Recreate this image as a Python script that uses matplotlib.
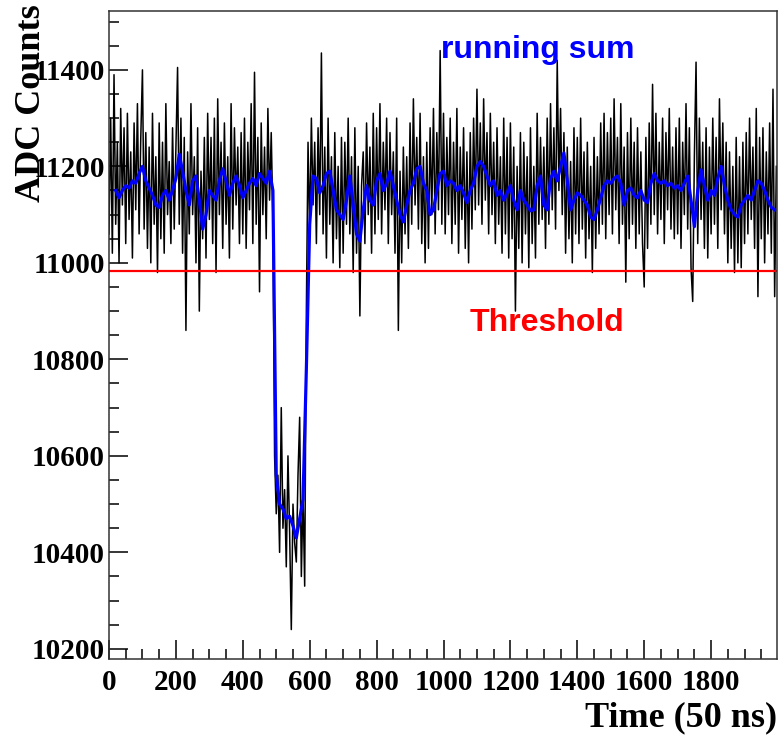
import numpy as np
import matplotlib
matplotlib.use("Agg")
import matplotlib.pyplot as plt
from matplotlib.ticker import MultipleLocator

# --- data ---
# raw ADC trace, one value every 5 samples (rows of 100 samples)
adc_step = 5
adc_counts = [
    11060, 11300, 11020, 11390, 11080, 11250, 11000, 11320, 11120, 11280, 11040, 11310, 11090, 11230, 11010, 11290, 11110, 11330, 11060, 11260,
    11400, 11070, 11270, 11030, 11240, 11000, 11310, 11080, 11220, 10980, 11290, 11050, 11250, 11020, 11330, 11100, 11210, 11040, 11280, 11070,
    11240, 11405, 11080, 11300, 11020, 11260, 10860, 11230, 11060, 11330, 11100, 11220, 11000, 11280, 10900, 11190, 11050, 11260, 11010, 11310,
    11090, 11260, 11040, 11300, 10980, 11340, 11100, 11250, 11030, 11290, 11080, 11220, 11010, 11330, 11070, 11280, 11120, 11240, 11040, 11270,
    11060, 11300, 11030, 11250, 11110, 11330, 11040, 11395, 11080, 11260, 10940, 11290, 11100, 11240, 11050, 11320, 11130, 11270, 11090, 10600,
    10480, 10560, 10400, 10700, 10450, 10530, 10370, 10600, 10440, 10240, 10500, 10420, 10380, 10560, 10680, 10350, 10520, 10330, 10900, 11250,
    11060, 11300, 11120, 11250, 11040, 11280, 11100, 11435, 11060, 11240, 11010, 11300, 11080, 11220, 11000, 11270, 11050, 11200, 10990, 11260,
    11020, 11250, 11080, 11300, 11060, 11220, 10980, 11280, 11020, 11200, 10890, 11160, 11230, 11040, 11290, 11100, 11240, 11020, 11310, 11060,
    11280, 11090, 11330, 11060, 11250, 11110, 11300, 11040, 11270, 11100, 11230, 11020, 11300, 10860, 11190, 11000, 11240, 11060, 11220, 11030,
    11290, 11080, 11340, 11120, 11260, 11070, 11310, 11040, 11220, 11000, 11250, 11030, 11280, 11100, 11320, 11060, 11270, 11110, 11440, 11080,
    11310, 11060, 11260, 11100, 11300, 11040, 11250, 11080, 11320, 11020, 11240, 11090, 11280, 11030, 11230, 11000, 11270, 11070, 11300, 11110,
    11360, 11120, 11290, 11080, 11340, 11130, 11270, 11060, 11310, 11100, 11250, 11040, 11280, 11080, 11220, 11020, 11300, 11060, 11260, 11010,
    11290, 11050, 11240, 10900, 11200, 11030, 11270, 11000, 11250, 11060, 11220, 10990, 11280, 11040, 11200, 11010, 11310, 11080, 11260, 11090,
    11240, 11030, 11300, 11080, 11330, 11110, 11280, 11070, 11420, 11150, 11320, 11100, 11270, 11020, 11240, 11050, 11210, 11000, 11280, 11060,
    11260, 11040, 11300, 11070, 11230, 11010, 11250, 11050, 11200, 10980, 11260, 11030, 11220, 11060, 11290, 11080, 11310, 11050, 11270, 11100,
    11300, 11060, 11340, 11110, 11260, 11040, 11330, 11080, 11240, 10960, 11270, 11050, 11300, 11080, 11250, 11030, 11280, 11060, 11230, 11040,
    10950, 11260, 11030, 11290, 11080, 11370, 11100, 11310, 11060, 11250, 11090, 11300, 11040, 11270, 11110, 11320, 11070, 11240, 11050, 11280,
    11060, 11300, 11030, 11250, 11100, 11330, 11070, 11280, 10990, 10920, 11220, 11416, 11040, 11300, 11090, 11250, 11030, 11280, 11010, 11240,
    11060, 11300, 11080, 11260, 11030, 11340, 11110, 11290, 11060, 11250, 11000, 11230, 11030, 11200, 10980, 11260, 11000, 11220, 10990, 11250,
    11040, 11270, 11060, 11300, 11090, 11240, 11030, 11320, 10930, 11260, 11050, 11280, 11000, 11230, 11060, 11290, 11020, 11360, 10930, 11200,
]

# running sum, one value every 10 samples starting at sample 20
sum_start = 20
sum_step = 10
running_sum = [
    11150, 11135, 11150, 11160, 11155, 11170, 11165, 11185,
    11200, 11170, 11155, 11140, 11120, 11115, 11140, 11150, 11130, 11150,
    11175, 11225, 11190, 11150, 11120, 11170, 11180, 11130, 11070, 11100,
    11150, 11140, 11130, 11170, 11195, 11170, 11140, 11165, 11180, 11160,
    11135, 11150, 11165, 11175, 11160, 11185, 11175, 11165, 11190, 11150,
    10560, 10500, 10490, 10470, 10475, 10455, 10430, 10470, 10510, 10780,
    11080, 11180, 11175, 11145, 11160, 11185, 11190, 11150, 11110, 11100,
    11090, 11130, 11180, 11120, 11060, 11045, 11110, 11160, 11130, 11120,
    11170, 11185, 11150, 11165, 11190, 11160, 11130, 11100, 11085, 11120,
    11150, 11165, 11195, 11200, 11165, 11150, 11100, 11110, 11150, 11185,
    11190, 11160, 11170, 11165, 11150, 11160, 11145, 11125, 11150, 11165,
    11200, 11210, 11200, 11180, 11160, 11170, 11140, 11150, 11130, 11145,
    11160, 11130, 11110, 11150, 11130, 11120, 11108, 11110, 11160, 11180,
    11120, 11110, 11175, 11190, 11170, 11200, 11228, 11170, 11110, 11130,
    11145, 11140, 11130, 11120, 11095, 11090, 11110, 11135, 11160, 11170,
    11165, 11175, 11180, 11165, 11120, 11150, 11155, 11140, 11135, 11150,
    11130, 11125, 11165, 11185, 11170, 11165, 11170, 11160, 11165, 11155,
    11160, 11150, 11165, 11180, 11130, 11075, 11150, 11193, 11160, 11130,
    11150, 11140, 11175, 11200, 11160, 11130, 11110, 11100, 11095, 11120,
    11130, 11140, 11130, 11150, 11170, 11165, 11150, 11130, 11115, 11110,
]

threshold = 10983

adc_time = np.arange(len(adc_counts)) * adc_step
sum_time = sum_start + np.arange(len(running_sum)) * sum_step

# --- figure ---
W, H = 782, 736
fig = plt.figure(figsize=(W / 100, H / 100), dpi=100)
ax = fig.add_axes([109 / W, 1 - 659 / H, (777 - 109) / W, (659 - 11) / H])

ax.plot(adc_time, adc_counts, color="black", lw=1.1)
ax.plot(sum_time, running_sum, color="#0000ff", lw=2.3)
ax.axhline(threshold, color="#ff0000", lw=1.6)

ax.set_xlim(0, 1997)
ax.set_ylim(10179, 11522)

serif = {"family": "Liberation Serif", "weight": "bold"}
ax.xaxis.set_major_locator(MultipleLocator(200))
ax.xaxis.set_minor_locator(MultipleLocator(50))
ax.yaxis.set_major_locator(MultipleLocator(200))
ax.yaxis.set_minor_locator(MultipleLocator(50))
ax.tick_params(which="both", direction="in", top=False, right=False, width=1.1)
ax.tick_params(which="major", length=13.5)
ax.tick_params(which="minor", length=7)
ax.tick_params(axis="x", pad=7)
ax.tick_params(axis="y", pad=3)
for lab in ax.get_xticklabels() + ax.get_yticklabels():
    lab.set_fontproperties(serif)
    lab.set_fontsize(21)

for sp in ax.spines.values():
    sp.set_linewidth(1.1)
    sp.set_color("#333333")

ax.set_xlabel("Time (50 ns)", fontsize=26, **serif)
ax.xaxis.set_label_coords(1.0, -0.104)
ax.xaxis.label.set_horizontalalignment("right")
ax.xaxis.label.set_verticalalignment("baseline")
ax.set_ylabel("ADC Counts", fontsize=26, **serif)
ax.yaxis.set_label_coords(-0.092, 1.01)
ax.yaxis.label.set_verticalalignment("bottom")
ax.yaxis.label.set_horizontalalignment("right")

ax.text(994, 11425, "running sum", color="#0000ff", fontsize=23,
        family="Liberation Sans", weight="bold")
ax.text(1078, 10859, "Threshold", color="#ff0000", fontsize=23,
        family="Liberation Sans", weight="bold")

fig.savefig("out.png", dpi=100)
